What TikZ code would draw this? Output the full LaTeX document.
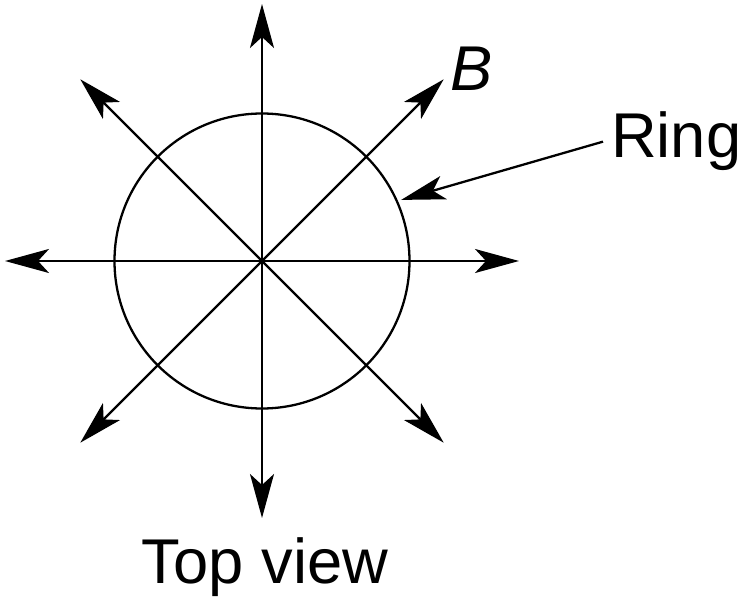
\documentclass[tikz,border=0pt]{standalone}
\usepackage{fontspec}
\setmainfont{Liberation Sans}
\usetikzlibrary{arrows.meta}
\begin{document}
\begin{tikzpicture}[line width=1.3pt, every node/.style={font=\fontsize{36}{42}\selectfont},
  fieldarrow/.style={-{Stealth[length=0.88cm,width=0.48cm,inset=0.22cm]}}]
\useasboundingbox (0,0) rectangle (14.86,12);
\coordinate (o) at (5.24,6.78);
\node[draw,circle,minimum size=5.9cm,inner sep=0pt] (ring) at (o) {};
\foreach \a in {0,45,...,315} {
  \path (o) ++(\a:5.14) coordinate (tip\a);
  \draw[fieldarrow] (o) -- (tip\a);
}
\node[font=\fontsize{36}{42}\selectfont\itshape] (blabel) at (9.44,10.62) {B};
\node[anchor=base west,inner sep=0.14cm] (ringlbl) at (12.06,8.84) {Ring};
\path (o) ++(23.7:3.04) coordinate (ringtip);
\draw[fieldarrow] (ringlbl.west) -- (ringtip);
\node[anchor=base] (caption) at (5.30,0.34) {Top view};
\end{tikzpicture}
\end{document}
